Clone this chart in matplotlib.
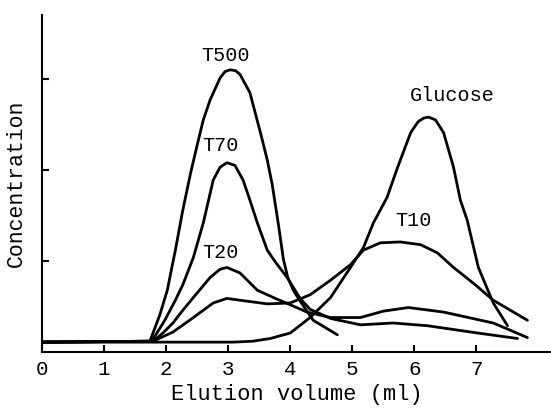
import numpy as np
import matplotlib
matplotlib.use('Agg')
import matplotlib.pyplot as plt

# elution volume (ml) / concentration
t500_x = [0, 1.74, 1.90, 2.02, 2.15, 2.27, 2.39, 2.50, 2.60, 2.71, 2.87, 2.95, 3.03, 3.12, 3.19, 3.35, 3.52, 3.63, 3.71, 3.81, 3.89, 3.96, 4.05, 4.15, 4.37, 4.76]
t500_y = [0.11, 0.12, 0.41, 0.68, 1.12, 1.56, 1.95, 2.27, 2.55, 2.77, 3.01, 3.08, 3.10, 3.09, 3.05, 2.85, 2.41, 2.11, 1.84, 1.40, 1.02, 0.82, 0.68, 0.57, 0.35, 0.19]

t70_x = [0, 1.77, 1.98, 2.15, 2.27, 2.44, 2.60, 2.76, 2.87, 2.98, 3.11, 3.24, 3.35, 3.47, 3.63, 3.76, 3.95, 4.16, 4.32, 4.65, 5.13, 5.66, 6.21, 7.02, 7.66]
t70_y = [0.11, 0.12, 0.35, 0.57, 0.74, 1.04, 1.42, 1.89, 2.03, 2.08, 2.05, 1.89, 1.67, 1.42, 1.12, 0.99, 0.82, 0.59, 0.47, 0.37, 0.30, 0.32, 0.29, 0.21, 0.15]

t20_x = [0, 1.79, 1.95, 2.11, 2.27, 2.44, 2.71, 2.87, 2.98, 3.19, 3.47, 3.76, 4.00, 4.27, 4.65, 5.13, 5.50, 5.90, 6.47, 7.27, 7.82]
t20_y = [0.11, 0.12, 0.21, 0.32, 0.46, 0.60, 0.82, 0.91, 0.93, 0.87, 0.68, 0.59, 0.52, 0.44, 0.38, 0.38, 0.45, 0.49, 0.44, 0.32, 0.16]

t10_x = [0, 1.79, 2.11, 2.44, 2.76, 2.98, 3.19, 3.63, 4.00, 4.32, 4.65, 4.97, 5.18, 5.45, 5.77, 6.10, 6.37, 6.63, 6.98, 7.27, 7.82]
t10_y = [0.11, 0.12, 0.22, 0.38, 0.54, 0.59, 0.57, 0.53, 0.54, 0.63, 0.79, 0.96, 1.12, 1.20, 1.21, 1.18, 1.09, 0.93, 0.74, 0.57, 0.35]

glu_x = [0, 3.08, 3.40, 3.68, 4.00, 4.32, 4.65, 4.97, 5.18, 5.34, 5.56, 5.73, 5.94, 6.06, 6.15, 6.23, 6.34, 6.47, 6.63, 6.74, 6.85, 7.03, 7.27, 7.50]
glu_y = [0.11, 0.11, 0.12, 0.15, 0.21, 0.38, 0.60, 0.93, 1.15, 1.42, 1.70, 2.03, 2.41, 2.53, 2.57, 2.58, 2.55, 2.41, 2.03, 1.67, 1.45, 0.93, 0.54, 0.29]

labels = ['T500', 'T70', 'T20', 'T10', 'Glucose']
label_x = [2.95, 2.87, 2.87, 5.98, 6.61]
label_y = [3.26, 2.27, 1.09, 1.45, 2.82]

plt.rcParams['font.family'] = ['Liberation Mono', 'DejaVu Sans Mono']

fig = plt.figure(figsize=(5.51, 4.09), dpi=100)
ax = fig.add_axes([0.076, 0.139, 0.924, 0.824])

for xs, ys in [(t500_x, t500_y), (t70_x, t70_y), (t20_x, t20_y), (t10_x, t10_y), (glu_x, glu_y)]:
    ax.plot(xs, ys, color='black', lw=2.0, solid_joinstyle='round', solid_capstyle='round')

for name, lx, ly in zip(labels, label_x, label_y):
    ax.text(lx, ly, name, fontsize=14.5, ha='center', va='center')

ax.set_xlim(0, 8.2)
ax.set_ylim(0, 3.7)
ax.set_xticks(range(8))
ax.set_xticklabels([str(i) for i in range(8)], fontsize=15)
ax.set_yticks([1, 2, 3])
ax.set_yticklabels([])
ax.tick_params(direction='in', length=5, width=1.5, pad=6)
ax.spines['top'].set_visible(False)
ax.spines['right'].set_visible(False)
ax.spines['left'].set_linewidth(1.5)
ax.spines['bottom'].set_linewidth(1.5)
ax.set_xlabel('Elution volume (ml)', fontsize=15.8, labelpad=3)
ax.set_ylabel('Concentration', fontsize=15.5, labelpad=5)

plt.savefig('out.png', dpi=100)
